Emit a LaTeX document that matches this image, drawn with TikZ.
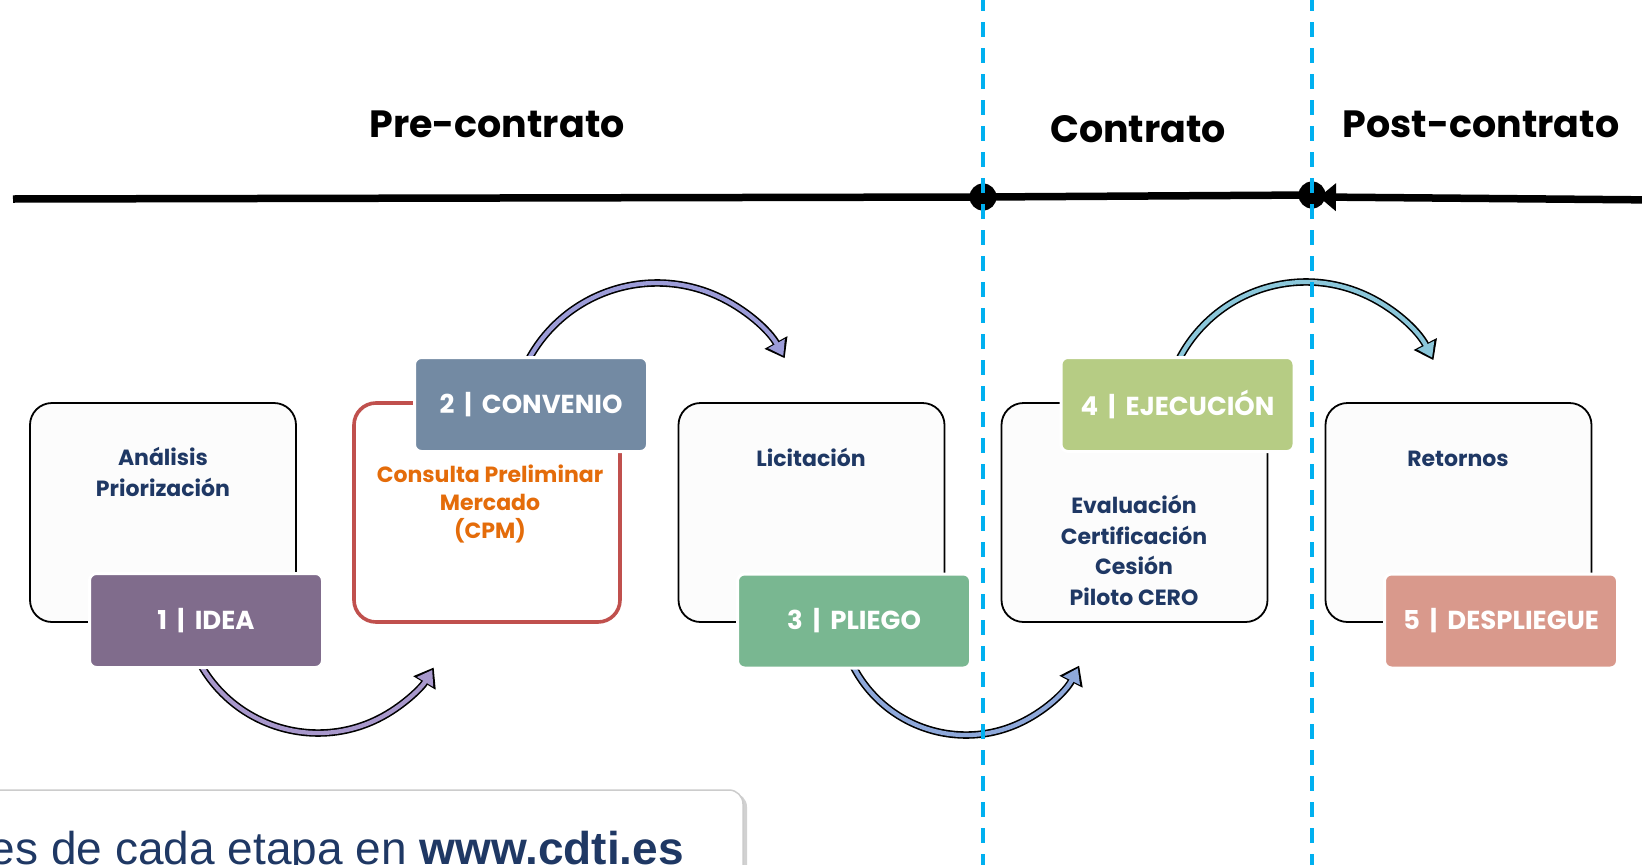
\documentclass[tikz,border=0pt]{standalone}
\usepackage{fontspec}
\setmainfont{Poppins}
\newfontfamily\webfont{Liberation Sans}
\usetikzlibrary{arrows.meta}
\definecolor{navy}{HTML}{1F3864}
\definecolor{orng}{HTML}{E46C0A}
\definecolor{redb}{HTML}{C0504D}
\definecolor{cyanl}{HTML}{00B0F0}
\definecolor{cA}{HTML}{806C8C}
\definecolor{cB}{HTML}{738AA3}
\definecolor{cC}{HTML}{79B791}
\definecolor{cD}{HTML}{B6CC84}
\definecolor{cE}{HTML}{D9998C}
\definecolor{aA}{HTML}{A898CC}
\definecolor{aB}{HTML}{9C9CD8}
\definecolor{aC}{HTML}{8EA8DA}
\definecolor{aD}{HTML}{8BC7DA}
\newcommand\stagearrow[6]{%
  \draw[line width=7.5pt, black, -{Triangle[length=18pt,width=25pt]}]
    (#1,#2) ++(#4:#3) arc[start angle=#4, end angle=#5, radius=#3];
  \draw[line width=4.3pt, #6, shorten >=2.8pt, -{Triangle[length=14pt,width=18pt]}]
    (#1,#2) ++(#4:#3) arc[start angle=#4, end angle=#5, radius=#3];
}
\newcommand\lbl[2]{#1\hspace{10pt}|\hspace{10pt}#2}
\tikzset{
  stagebox/.style={draw=black, line width=1.8pt, fill=black!1, rounded corners=22pt,
    minimum width=266pt, minimum height=219pt},
  labelbox/.style={draw=white, line width=3pt, rounded corners=7pt, text=white,
    minimum width=233pt, minimum height=94pt, font=\bfseries\fontsize{26}{30}\selectfont},
  boxtext/.style={text=navy, font=\bfseries\fontsize{22}{30.5}\selectfont, align=center, anchor=base},
  title/.style={font=\bfseries\fontsize{38}{42}\selectfont, anchor=base},
  phase/.style={cyanl, line width=3.5pt, dash pattern=on 15pt off 11pt},
  dot/.style={circle, fill=black, inner sep=0pt, minimum size=27pt}
}
\begin{document}
\begin{tikzpicture}[x=1pt,y=-1pt]
\clip (0,0) rectangle (1642,865);
\fill[white] (0,0) rectangle (1642,865);

% titles
\node[title] (t1) at (497,137) {Pre-contrato};
\node[title] (t2) at (1138,142) {Contrato};
\node[title] (t3) at (1481,137) {Post-contrato};

% timeline
\coordinate (s0) at (13,199);
\node[dot] (d1) at (983,197) {};
\node[dot] (d2) at (1312,195) {};
\coordinate (e0) at (1319,197);
\coordinate (e1) at (1660,200);
\draw[line width=7.5pt] (s0) -- (d1.center) -- (d2.center);
\draw[line width=7.5pt, {Triangle[length=17pt,width=27pt]}-{Triangle[length=17pt,width=27pt]}] (e0) -- (e1);

% boxes
\node[stagebox] (b1) at (163,512.5) {};
\node[stagebox, draw=redb, line width=3.6pt, fill=white] (b2) at (487,512.5) {};
\node[stagebox] (b3) at (811.5,512.5) {};
\node[stagebox] (b4) at (1134.5,512.5) {};
\node[stagebox] (b5) at (1458.5,512.5) {};

\node[boxtext] (x1) at (163,496) {Análisis\\Priorización};
\node[boxtext, text=orng, font=\bfseries\fontsize{22}{28}\selectfont] (x2) at (490,538) {Consulta Preliminar\\Mercado\\(CPM)};
\node[boxtext] (x3) at (811,466) {Licitación};
\node[boxtext] (x4) at (1134,605) {Evaluación\\Certificación\\Cesión\\Piloto CERO};
\node[boxtext] (x5) at (1458,466) {Retornos};

% arrows
\stagearrow{318}{598}{135}{151}{31}{aA}
\stagearrow{657}{429}{146}{204}{331}{aB}
\stagearrow{966}{608}{127}{156}{27}{aC}
\stagearrow{1306}{425}{143}{203}{333}{aD}

% labels
\node[labelbox, fill=cA] (l1) at (206,620.5) {\lbl{1}{IDEA}};
\node[labelbox, fill=cB] (l2) at (531,404.5) {\lbl{2}{CONVENIO}};
\node[labelbox, fill=cC] (l3) at (854,621) {\lbl{3}{PLIEGO}};
\node[labelbox, fill=cD] (l4) at (1177.5,404.5) {\lbl{4}{EJECUCIÓN}};
\node[labelbox, fill=cE] (l5) at (1501,621) {\lbl{5}{DESPLIEGUE}};

% bottom note
\fill[black!18, rounded corners=14pt] (-20,793) rectangle (747,905);
\draw[black!20, line width=1.5pt, fill=white, rounded corners=14pt] (-20,790) rectangle (743,905);
\node[anchor=base east, inner sep=0pt, text=navy, font=\webfont\fontsize{46}{50}\selectfont] (web) at (684,864) {es de cada etapa en \textbf{www.cdti.es}};

% phase separators
\coordinate (p1a) at (983,-4);
\coordinate (p1b) at (983,870);
\coordinate (p2a) at (1312,-4);
\coordinate (p2b) at (1312,870);
\draw[phase] (p1a) -- (p1b);
\draw[phase] (p2a) -- (p2b);
\end{tikzpicture}
\end{document}
